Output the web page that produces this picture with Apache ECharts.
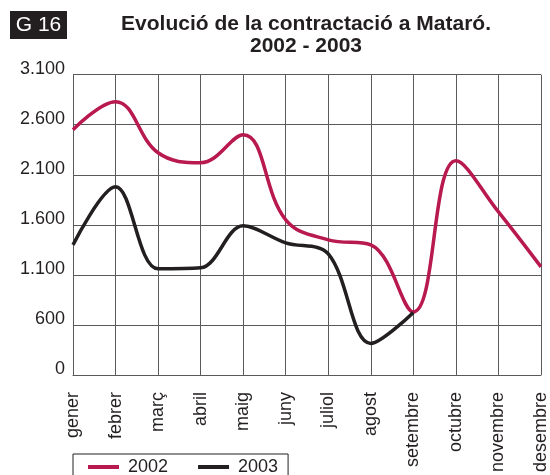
<!DOCTYPE html>
<html>
<head>
<meta charset="utf-8">
<script src="https://cdn.jsdelivr.net/npm/echarts@6/dist/echarts.min.js"></script>
<style>
  html, body { margin: 0; padding: 0; background: #fff; }
  #chart { width: 550px; height: 475px; }
</style>
</head>
<body>
<div id="chart"></div>
<script>
// Mesos
const months = ['gener', 'febrer', 'març', 'abril', 'maig', 'juny', 'juliol', 'agost', 'setembre', 'octubre', 'novembre', 'desembre']

// Contractes per any
const values2002 = [2550, 2830, 2320, 2220, 2500, 1650, 1450, 1400, 730, 2240, 1730, 1180]
const values2003 = [1400, 1980, 1160, 1170, 1590, 1420, 1310, 415, 725, null, null, null]

// Eix Y: el primer tick es mostra com a "0"
const yMin = 100
const yMax = 3100
const yStep = 500

const FONT = "'Liberation Sans', Arial, Helvetica, sans-serif"
const INK = '#231f20'
const GRID = '#5a5a5a'

const fmt = v => v === yMin ? '0' : String(v).replace(/\B(?=(\d{3})+(?!\d))/g, '.')

const chart = echarts.init(document.getElementById('chart'))

const option = {
  animation: false,
  textStyle: { fontFamily: FONT },
  title: {
    text: 'Evolució de la contractació a Mataró.\n2002 - 2003',
    left: 306,
    top: 13,
    padding: 0,
    textAlign: 'center',
    textStyle: {
      fontFamily: FONT,
      fontSize: 21,
      fontWeight: 'bold',
      lineHeight: 22,
      color: INK
    }
  },
  graphic: [
    {
      type: 'group',
      left: 10,
      top: 11,
      children: [
        { type: 'rect', shape: { x: 0, y: 0, width: 57, height: 28 }, style: { fill: INK } },
        {
          type: 'text',
          x: 28.5,
          y: 14,
          style: {
            text: 'G 16',
            fill: '#fff',
            font: '21px ' + FONT,
            align: 'center',
            verticalAlign: 'middle'
          }
        }
      ]
    }
  ],
  legend: {
    left: 73,
    top: 454,
    padding: [4, 10, 14, 15],
    borderColor: INK,
    borderWidth: 1,
    icon: 'rect',
    itemWidth: 31,
    itemHeight: 4,
    itemGap: 30,
    textStyle: { fontFamily: FONT, fontSize: 18, color: INK, padding: [0, 0, 0, 4] },
    data: ['2002', '2003']
  },
  grid: {
    left: 73,
    right: 4.3,
    top: 74.7,
    bottom: 97.3,
    containLabel: false
  },
  xAxis: {
    type: 'category',
    data: months,
    boundaryGap: false,
    axisLine: { lineStyle: { color: GRID, width: 1 } },
    axisTick: { show: false },
    splitLine: { show: true, lineStyle: { color: GRID, width: 1 } },
    axisLabel: {
      rotate: 90,
      margin: 17,
      interval: 0,
      fontFamily: FONT,
      fontSize: 18,
      color: INK
    }
  },
  yAxis: {
    type: 'value',
    min: yMin,
    max: yMax,
    interval: yStep,
    axisLine: { show: true, lineStyle: { color: GRID, width: 1 } },
    axisTick: { show: false },
    splitLine: { show: true, lineStyle: { color: GRID, width: 1 } },
    axisLabel: {
      formatter: fmt,
      margin: 8,
      fontFamily: FONT,
      fontSize: 18,
      color: INK,
      verticalAlign: 'bottom',
      lineHeight: 12
    }
  },
  series: [
    {
      name: '2002',
      type: 'line',
      data: values2002,
      smooth: 0.4,
      showSymbol: false,
      symbol: 'none',
      itemStyle: { color: '#b8194f' },
      lineStyle: { color: '#b8194f', width: 3.5 }
    },
    {
      name: '2003',
      type: 'line',
      data: values2003,
      smooth: 0.35,
      showSymbol: false,
      symbol: 'none',
      itemStyle: { color: INK },
      lineStyle: { color: INK, width: 3.5 }
    }
  ]
}

chart.setOption(option)
</script>
</body>
</html>
